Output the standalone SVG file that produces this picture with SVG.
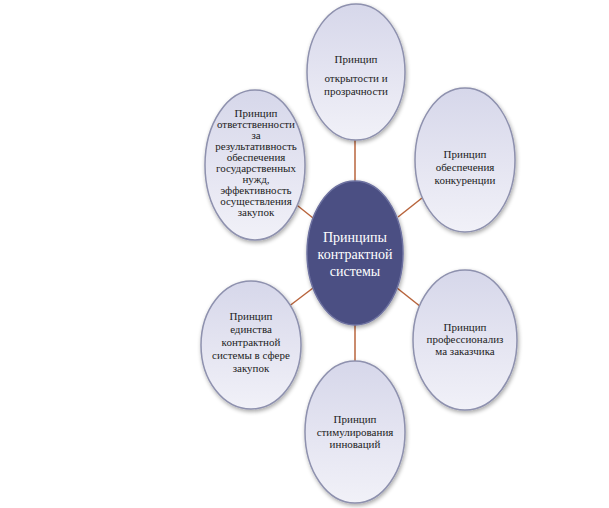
<svg xmlns="http://www.w3.org/2000/svg" width="609" height="508" viewBox="0 0 609 508">
<defs>
<linearGradient id="g" x1="0" y1="0" x2="0" y2="1">
<stop offset="0" stop-color="#d6d7ea"/>
<stop offset="0.5" stop-color="#e4e4f1"/>
<stop offset="1" stop-color="#f1f1f8"/>
</linearGradient>
<filter id="sh" x="-20%" y="-20%" width="140%" height="140%">
<feGaussianBlur in="SourceAlpha" stdDeviation="2"/>
<feOffset dx="1" dy="2"/>
<feComponentTransfer><feFuncA type="linear" slope="0.35"/></feComponentTransfer>
<feMerge><feMergeNode/><feMergeNode in="SourceGraphic"/></feMerge>
</filter>
</defs>
<style>
.n{fill:url(#g);stroke:#8e91ae;stroke-width:1.5;filter:url(#sh)}
.c{fill:#4b4f83;stroke:#6d71a0;stroke-width:1.5;filter:url(#sh)}
.t{font-family:'Liberation Serif','DejaVu Serif',serif;font-size:11px;fill:#222;text-anchor:middle}
.w{font-family:'Liberation Serif','DejaVu Serif',serif;font-size:14px;fill:#fff;text-anchor:middle}
.l{stroke:#b8643c;stroke-width:1.5}
</style>
<rect width="609" height="508" fill="#fff"/>
<g id="connectors">
<line class="l" x1="355" y1="140" x2="355" y2="182"/>
<line class="l" x1="288" y1="198" x2="313" y2="218"/>
<line class="l" x1="398" y1="217" x2="422" y2="198"/>
<line class="l" x1="288" y1="307" x2="313" y2="288"/>
<line class="l" x1="397" y1="288" x2="421" y2="307"/>
<line class="l" x1="355" y1="324" x2="355" y2="362"/>
</g>
<g id="top" font-family="Liberation Serif, serif">
<ellipse class="n" cx="356" cy="72" rx="49" ry="68"/>
<text class="t" x="356" y="63">Принцип</text>
<text class="t" x="356" y="82">открытости и</text>
<text class="t" x="356" y="95">прозрачности</text>
</g>
<g id="topright" font-family="Liberation Serif, serif">
<ellipse class="n" cx="465" cy="160" rx="50" ry="72"/>
<text class="t" x="465" y="158">Принцип</text>
<text class="t" x="465" y="171">обеспечения</text>
<text class="t" x="465" y="184">конкуренции</text>
</g>
<g id="topleft" font-family="Liberation Serif, serif">
<ellipse class="n" cx="255" cy="165" rx="50" ry="75"/>
<text class="t" x="256" y="117">Принцип</text>
<text class="t" x="256" y="128">ответственности</text>
<text class="t" x="256" y="139">за</text>
<text class="t" x="256" y="150">результативность</text>
<text class="t" x="256" y="161">обеспечения</text>
<text class="t" x="256" y="172">государственных</text>
<text class="t" x="256" y="183">нужд,</text>
<text class="t" x="256" y="194">эффективность</text>
<text class="t" x="256" y="205">осуществления</text>
<text class="t" x="256" y="216">закупок</text>
</g>
<g id="center" font-family="Liberation Serif, serif">
<ellipse class="c" cx="355" cy="253" rx="48" ry="72"/>
<text class="w" x="355" y="242">Принципы</text>
<text class="w" x="355" y="259">контрактной</text>
<text class="w" x="355" y="276">системы</text>
</g>
<g id="bottomleft" font-family="Liberation Serif, serif">
<ellipse class="n" cx="251" cy="345" rx="50" ry="64"/>
<text class="t" x="251" y="320">Принцип</text>
<text class="t" x="251" y="333">единства</text>
<text class="t" x="251" y="346">контрактной</text>
<text class="t" x="251" y="359">системы в сфере</text>
<text class="t" x="251" y="372">закупок</text>
</g>
<g id="bottomright" font-family="Liberation Serif, serif">
<ellipse class="n" cx="465" cy="340" rx="52" ry="70"/>
<text class="t" x="465" y="331">Принцип</text>
<text class="t" x="465" y="343">профессионализ</text>
<text class="t" x="465" y="355">ма заказчика</text>
</g>
<g id="bottom" font-family="Liberation Serif, serif">
<ellipse class="n" cx="355" cy="432" rx="50" ry="71"/>
<text class="t" x="355" y="423">Принцип</text>
<text class="t" x="355" y="436">стимулирования</text>
<text class="t" x="355" y="448">инноваций</text>
</g>
</svg>
